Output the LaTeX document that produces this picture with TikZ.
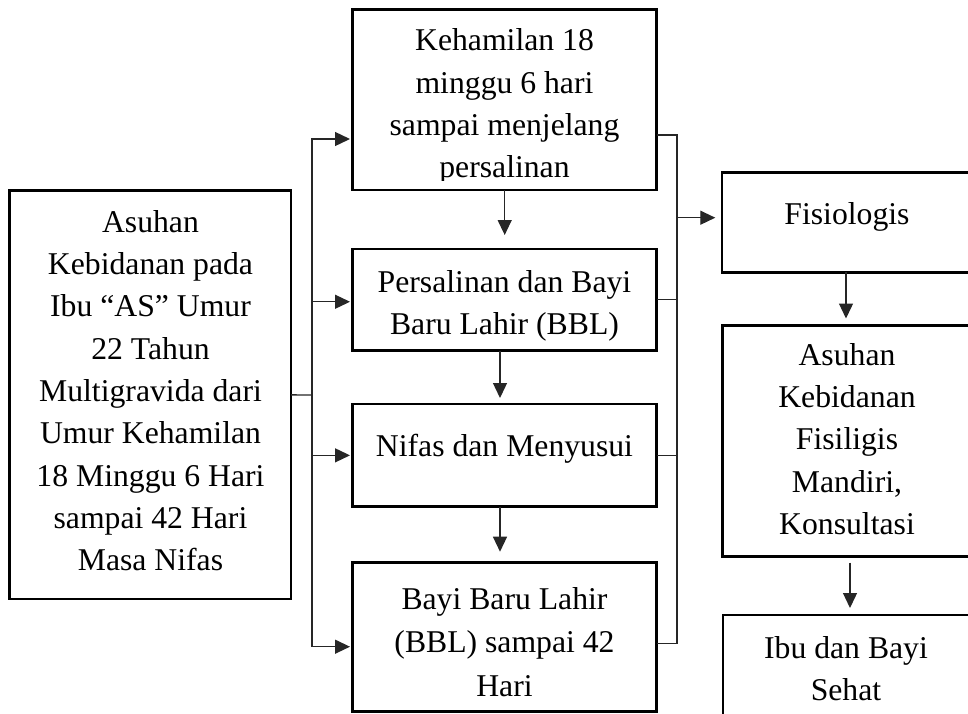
\documentclass[tikz,border=0pt]{standalone}
\usepackage{fontspec}
\setmainfont{Liberation Serif}
\usetikzlibrary{arrows.meta}
\newcommand\myst{\rule{0pt}{24pt}}
\begin{document}
\begin{tikzpicture}[x=1pt,y=-1pt,
  box/.style={draw=black, line width=2.6pt, inner sep=0pt, outer sep=0pt},
  txt/.style={align=center, inner sep=0pt, anchor=north, font=\fontsize{31.7pt}{42.3pt}\selectfont},
  conn/.style={line width=1.3pt, draw=black!85},
  arr/.style={conn, -{Triangle[length=15pt,width=14pt]}},
]
\useasboundingbox (0,0) rectangle (968,713);

% boxes
\node[box, minimum width=281.5pt, minimum height=408.3pt] (lb) at (150.25,394.85) {};
\node[box, minimum width=304pt, minimum height=180.7pt] (b1) at (504.7,99.65) {};
\node[box, minimum width=304pt, minimum height=101.5pt] (b2) at (504.7,299.75) {};
\node[box, minimum width=304pt, minimum height=102.7pt] (b3) at (504.7,455.35) {};
\node[box, minimum width=304pt, minimum height=149pt] (b4) at (504.7,637.2) {};
\node[box, minimum width=248pt, minimum height=99.5pt] (r1) at (846,222.45) {};
\node[box, minimum width=248pt, minimum height=231.2pt] (r2) at (846.5,441.1) {};
\node[box, minimum width=248pt, minimum height=125pt] (r3) at (847,677.5) {};

% texts
\node[txt] (tlb) at (150.5,208) {\myst Asuhan\\Kebidanan pada\\Ibu “AS” Umur\\22 Tahun\\Multigravida dari\\Umur Kehamilan\\18 Minggu 6 Hari\\sampai 42 Hari\\Masa Nifas};
\begin{scope}
  \clip (354,10) rectangle (655,180.5);
  \node[txt] (tb1) at (504.5,26.5) {\myst Kehamilan 18\\minggu 6 hari\\sampai menjelang\\persalinan};
\end{scope}
\node[txt] (tb2) at (504.5,268) {\myst Persalinan dan Bayi\\Baru Lahir (BBL)};
\node[txt] (tb3) at (504.5,432.5) {\myst Nifas dan Menyusui};
\node[txt, font=\fontsize{31.7pt}{43.2pt}\selectfont] (tb4) at (504.5,585.5) {\myst Bayi Baru Lahir\\(BBL) sampai 42\\Hari};
\node[txt] (tr1) at (847,200) {\myst Fisiologis};
\node[txt] (tr2) at (847,341) {\myst Asuhan\\Kebidanan\\Fisiligis\\Mandiri,\\Konsultasi};
\node[txt] (tr3) at (846,634) {\myst Ibu dan Bayi\\Sehat};

% left bus
\coordinate (jL) at (312,395);
\draw[conn] (lb.east) -- (jL);
\draw[arr, shorten >=2.7pt] (jL) |- ([yshift=-39.35pt]b1.west);
\draw[arr, shorten >=2.7pt] (jL) |- ([yshift=-2pt]b2.west);
\draw[arr, shorten >=2.7pt] (jL) |- (b3.west);
\draw[arr, shorten >=2.7pt] (jL) |- ([yshift=-9.5pt]b4.west);

% right bus
\coordinate (jR) at (677,217.7);
\draw[conn] ([yshift=-35.35pt]b1.east) -| (jR);
\draw[conn] (b2.east) -| (jR);
\draw[conn] (b3.east) -| (jR);
\draw[conn] ([yshift=-6.1pt]b4.east) -| (jR);
\draw[arr, shorten >=6.7pt] (jR) -- ([yshift=4.75pt]r1.west);

% vertical arrows
\draw[arr, shorten >=14pt] (b1.south) -- (b2.north);
\draw[arr, shorten >=6pt] ([xshift=-4.7pt]b2.south) -- ([xshift=-4.7pt]b3.north);
\draw[arr, shorten >=11pt] ([xshift=-4.7pt]b3.south) -- ([xshift=-4.7pt]b4.north);
\draw[arr, shorten >=7pt] (r1.south) -- (r1.south |- r2.north);
\draw[arr, shorten <=6pt, shorten >=7pt] ([xshift=3.5pt]r2.south) -- ([xshift=3.5pt]r2.south |- r3.north);
\end{tikzpicture}
\end{document}
